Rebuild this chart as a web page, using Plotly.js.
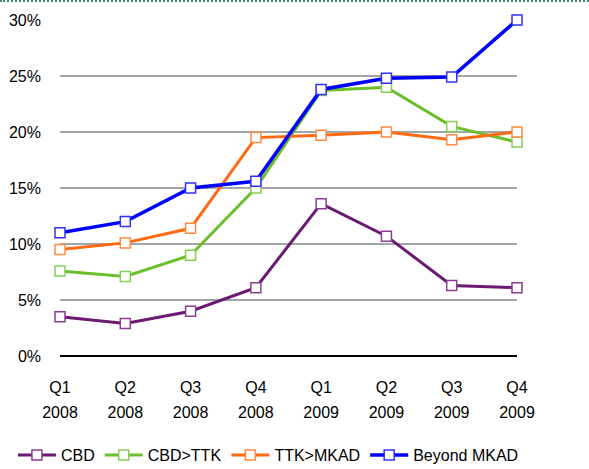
<!DOCTYPE html>
<html>
<head>
<meta charset="utf-8">
<script src="https://cdn.plot.ly/plotly-3.0.1.min.js"></script>
<style>
html,body{margin:0;padding:0;background:#fff;}
#wrap{position:relative;width:589px;height:469px;}
#chart{width:589px;height:469px;}
#topline{position:absolute;left:0;top:0;width:589px;height:0;border-top:2px dotted #3f8f6f;}
</style>
</head>
<body>
<div id="wrap"><div id="chart"></div><div id="topline"></div></div>
<script>
const quarters = ["Q1","Q2","Q3","Q4","Q1","Q2","Q3","Q4"];
const years = ["2008","2008","2008","2008","2009","2009","2009","2009"];
const cbd = [3.5, 2.9, 4.0, 6.1, 13.6, 10.7, 6.3, 6.1];
const cbdTtk = [7.6, 7.1, 9.0, 15.0, 23.7, 24.0, 20.5, 19.1];
const ttkMkad = [9.5, 10.1, 11.4, 19.5, 19.7, 20.0, 19.3, 20.0];
const beyondMkad = [11.0, 12.0, 15.0, 15.6, 23.8, 24.8, 24.9, 30.0];
const seriesNames = ["CBD","CBD>TTK","TTK>MKAD","Beyond MKAD"];
const yTicks = [0,5,10,15,20,25,30];

const idx = quarters.map((_, i) => i);
const colors = ["#6B1A72","#6BBF2A","#FF6A10","#0000FF"];
const markerEdge = ["#8A3D92","#86CF55","#FF8A40","#3030FF"];
const widths = [3,3,3,3.5];
const data = [cbd, cbdTtk, ttkMkad, beyondMkad].map((vals, k) => ({
  type: "scatter",
  mode: "lines+markers",
  name: seriesNames[k],
  x: idx,
  y: vals,
  cliponaxis: false,
  line: {color: colors[k], width: widths[k]},
  marker: {symbol: "square", size: 10, color: "#fff", line: {color: markerEdge[k], width: 1.5}}
}));

const FONT = "'Liberation Sans', Arial, sans-serif";
const layout = {
  width: 589, height: 469,
  margin: {l: 60, r: 72, t: 20, b: 113, autoexpand: false},
  paper_bgcolor: "#fff", plot_bgcolor: "#fff",
  font: {family: FONT, size: 16, color: "#000"},
  showlegend: true,
  legend: {orientation: "h", x: -0.103, xanchor: "left", y: -0.295, yanchor: "middle",
           font: {family: FONT, size: 16}, itemwidth: 38, tracegroupgap: 0},
  xaxis: {
    range: [0, 7], tickmode: "array", tickvals: idx, ticktext: quarters,
    showgrid: false, zeroline: false, showline: false, ticks: "",
    ticklabelstandoff: 20, automargin: false
  },
  xaxis2: {
    overlaying: "x", anchor: "y", side: "bottom",
    range: [0, 7], tickmode: "array", tickvals: idx, ticktext: years,
    showgrid: false, zeroline: false, showline: false, ticks: "",
    ticklabelstandoff: 45, automargin: false
  },
  yaxis: {
    range: [0, 30], tickmode: "array", tickvals: yTicks,
    ticktext: yTicks.map(v => v + "%"),
    showgrid: true, gridcolor: "#A3A6A8", gridwidth: 1.3,
    zeroline: true, zerolinecolor: "#000", zerolinewidth: 1.5,
    showline: false, ticks: "", ticklabelstandoff: 18, automargin: false
  }
};
data.push({type:"scatter", x:[0,7], y:[0,0], xaxis:"x2", yaxis:"y", mode:"none", showlegend:false, hoverinfo:"skip"});

Plotly.newPlot("chart", data, layout, {displayModeBar: false, staticPlot: true});
</script>
</body>
</html>
